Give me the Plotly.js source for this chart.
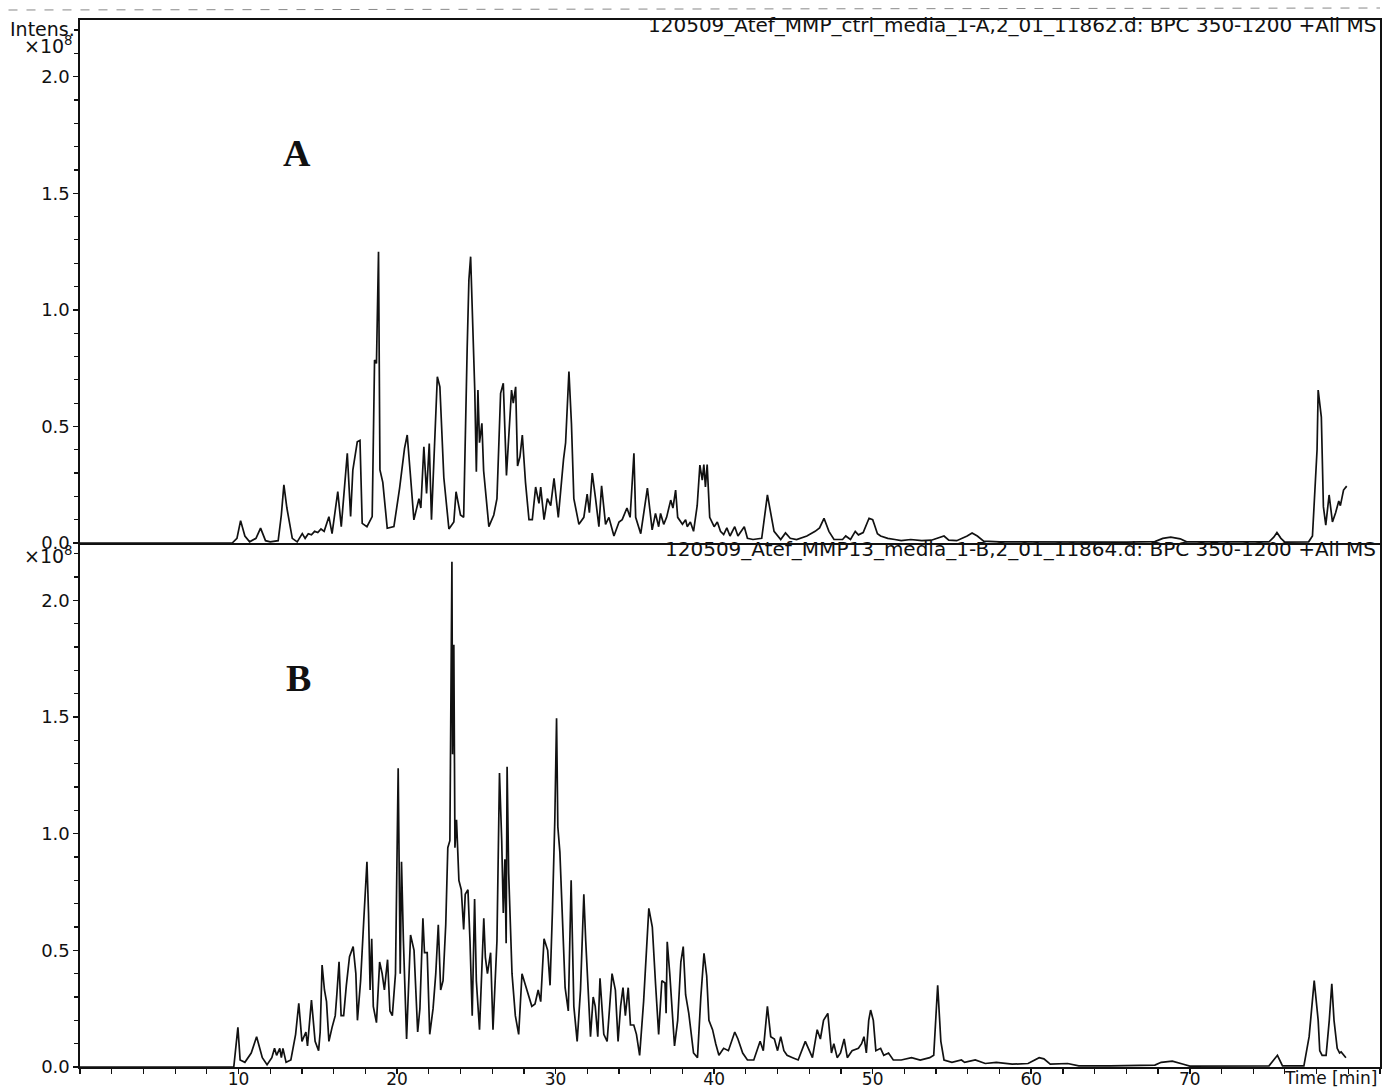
<!DOCTYPE html>
<html>
<head>
<meta charset="utf-8">
<script src="https://cdn.plot.ly/plotly-3.0.1.min.js"></script>
<style>html,body{margin:0;padding:0;background:#fff;}#chart{width:1394px;height:1088px;}</style>
</head>
<body>
<div id="chart"></div>
<script>
// Trace A: MMP ctrl media (time in min, intensity in 1e8)
const timeA = [0,9.6,9.9,10.13,10.4,10.7,11.1,11.39,11.7,12.0,12.5,12.7,12.86,13.05,13.39,13.7,14.02,14.2,14.4,14.6,14.8,15.0,15.2,15.4,15.7,15.9,16.26,16.48,16.86,17.07,17.21,17.49,17.66,17.8,18.1,18.43,18.58,18.7,18.83,18.92,19.1,19.38,19.8,20.16,20.47,20.64,20.85,21.06,21.38,21.5,21.69,21.86,22.03,22.17,22.54,22.7,22.95,23.27,23.58,23.72,24.0,24.2,24.42,24.53,24.64,24.75,24.9,25.0,25.1,25.2,25.35,25.46,25.79,26.1,26.3,26.53,26.7,26.9,27.05,27.22,27.33,27.48,27.6,27.75,27.9,28.1,28.32,28.53,28.74,28.95,29.06,29.27,29.48,29.69,29.9,30.17,30.5,30.63,30.84,31.0,31.15,31.47,31.78,31.99,32.13,32.31,32.52,32.73,32.9,33.15,33.36,33.68,34.0,34.2,34.5,34.7,34.94,35.05,35.37,35.79,36.09,36.3,36.5,36.62,36.82,37.0,37.26,37.4,37.57,37.7,38.0,38.2,38.3,38.5,38.7,38.93,39.1,39.25,39.35,39.45,39.56,39.72,40.0,40.2,40.4,40.6,40.8,41.0,41.3,41.5,41.9,42.1,42.45,43.0,43.36,43.57,43.78,44.2,44.5,44.8,45.2,45.85,46.37,46.65,46.93,47.24,47.56,48.1,48.3,48.6,48.9,49.1,49.4,49.77,50.0,50.1,50.3,50.5,50.95,51.4,51.8,52.4,53.1,53.7,54.5,54.8,55.3,55.96,56.27,56.6,57.0,58,60,62,64,66,67.8,68.3,68.8,69.4,69.8,72,75.0,75.3,75.5,75.75,76.0,77.5,77.74,78.03,78.1,78.3,78.43,78.58,78.79,79.0,79.2,79.4,79.5,79.7,79.9];
const intensA = [0,0,0.02,0.096,0.03,0.005,0.02,0.064,0.01,0.005,0.01,0.12,0.249,0.15,0.02,0.005,0.04,0.02,0.04,0.035,0.05,0.045,0.06,0.05,0.113,0.04,0.22,0.07,0.385,0.114,0.313,0.434,0.44,0.084,0.07,0.113,0.785,0.77,1.249,0.313,0.26,0.063,0.07,0.235,0.406,0.463,0.284,0.099,0.19,0.15,0.413,0.213,0.427,0.1,0.713,0.67,0.28,0.06,0.09,0.22,0.12,0.11,0.83,1.128,1.228,1.013,0.656,0.306,0.656,0.43,0.513,0.31,0.07,0.12,0.19,0.642,0.685,0.29,0.44,0.656,0.6,0.67,0.33,0.37,0.463,0.26,0.1,0.1,0.24,0.17,0.24,0.1,0.19,0.16,0.277,0.11,0.36,0.43,0.735,0.51,0.19,0.08,0.11,0.21,0.13,0.3,0.19,0.07,0.245,0.08,0.11,0.03,0.09,0.1,0.15,0.11,0.385,0.11,0.04,0.235,0.056,0.127,0.07,0.127,0.08,0.11,0.184,0.15,0.227,0.11,0.08,0.1,0.07,0.09,0.05,0.16,0.334,0.27,0.336,0.24,0.336,0.11,0.07,0.09,0.05,0.036,0.065,0.03,0.07,0.03,0.07,0.02,0.015,0.02,0.206,0.127,0.05,0.015,0.043,0.02,0.015,0.03,0.05,0.065,0.106,0.05,0.015,0.015,0.03,0.015,0.05,0.035,0.045,0.106,0.1,0.08,0.04,0.03,0.02,0.015,0.01,0.015,0.01,0.012,0.03,0.012,0.01,0.03,0.043,0.03,0.008,0.005,0.004,0.004,0.003,0.004,0.006,0.02,0.025,0.018,0.005,0.004,0.005,0.025,0.045,0.02,0.004,0.005,0.03,0.4,0.656,0.54,0.156,0.077,0.206,0.09,0.13,0.18,0.16,0.227,0.244];

// Trace B: MMP13 media
const timeB = [0,9.7,9.96,10.1,10.4,10.8,11.14,11.5,11.8,12.1,12.27,12.4,12.6,12.7,12.8,13.0,13.3,13.6,13.8,14.0,14.25,14.35,14.6,14.83,15.05,15.15,15.27,15.42,15.55,15.7,15.9,16.1,16.2,16.34,16.47,16.63,16.8,17.0,17.23,17.4,17.5,17.7,17.9,18.1,18.2,18.3,18.4,18.5,18.7,18.9,19.06,19.2,19.4,19.55,19.7,19.9,20.07,20.15,20.2,20.28,20.4,20.6,20.85,21.07,21.3,21.44,21.63,21.73,21.9,22.06,22.27,22.44,22.6,22.75,22.9,23.07,23.2,23.33,23.42,23.46,23.5,23.58,23.65,23.75,23.9,24.05,24.2,24.3,24.47,24.6,24.74,24.89,25.0,25.2,25.47,25.57,25.7,25.9,26.05,26.2,26.3,26.46,26.6,26.7,26.8,26.88,26.94,27.04,27.25,27.46,27.67,27.88,28.1,28.2,28.35,28.5,28.7,28.9,29.06,29.27,29.5,29.65,29.8,29.95,30.06,30.14,30.27,30.4,30.6,30.8,30.98,31.15,31.36,31.57,31.78,31.9,32.03,32.2,32.37,32.5,32.66,32.8,33.04,33.25,33.56,33.77,33.94,34.1,34.25,34.4,34.58,34.72,34.93,35.1,35.3,35.55,35.88,36.1,36.3,36.5,36.7,36.9,36.97,37.04,37.2,37.37,37.5,37.7,37.9,38.05,38.2,38.4,38.7,38.95,39.16,39.36,39.53,39.67,39.9,40.1,40.3,40.6,40.9,41.3,41.5,41.8,42.1,42.5,42.9,43.1,43.36,43.57,43.8,44.0,44.2,44.4,44.6,44.95,45.3,45.75,46.0,46.2,46.5,46.7,46.9,47.17,47.4,47.55,47.76,47.97,48.2,48.4,48.7,49.1,49.3,49.45,49.6,49.75,49.87,50.04,50.2,50.5,50.7,51.0,51.3,51.8,52.45,53.0,53.6,53.85,54.1,54.3,54.5,55.0,55.6,55.8,56.47,57.1,57.8,58.8,59.8,60.5,60.8,61.2,62.3,63,65,67.8,68.2,68.9,69.6,70.0,75.0,75.53,75.85,77.2,77.53,77.85,78.1,78.2,78.35,78.6,78.8,78.96,79.1,79.3,79.45,79.55,79.85];
const intensB = [0,0,0.17,0.03,0.02,0.06,0.13,0.04,0.01,0.04,0.08,0.05,0.08,0.04,0.08,0.02,0.03,0.14,0.273,0.11,0.15,0.09,0.287,0.11,0.07,0.15,0.437,0.33,0.28,0.11,0.17,0.22,0.31,0.451,0.22,0.22,0.35,0.473,0.516,0.4,0.2,0.37,0.63,0.88,0.66,0.33,0.55,0.26,0.19,0.45,0.4,0.33,0.46,0.24,0.22,0.4,1.28,0.68,0.4,0.88,0.54,0.12,0.566,0.5,0.15,0.25,0.637,0.49,0.49,0.14,0.25,0.4,0.61,0.33,0.37,0.61,0.94,0.97,1.72,2.166,1.34,1.81,0.94,1.06,0.8,0.76,0.59,0.74,0.76,0.54,0.22,0.72,0.37,0.16,0.637,0.47,0.4,0.49,0.16,0.43,0.54,1.26,0.97,0.66,0.89,0.53,1.287,0.83,0.4,0.22,0.14,0.4,0.35,0.33,0.29,0.26,0.27,0.33,0.28,0.55,0.5,0.35,0.67,1.06,1.495,1.03,0.92,0.67,0.34,0.24,0.8,0.26,0.11,0.33,0.74,0.54,0.36,0.13,0.3,0.26,0.13,0.38,0.14,0.11,0.4,0.33,0.11,0.26,0.34,0.22,0.34,0.18,0.18,0.14,0.05,0.28,0.68,0.6,0.36,0.14,0.37,0.36,0.23,0.537,0.4,0.2,0.09,0.2,0.45,0.516,0.31,0.23,0.06,0.04,0.3,0.487,0.39,0.2,0.16,0.1,0.05,0.08,0.07,0.15,0.12,0.06,0.03,0.03,0.11,0.07,0.26,0.13,0.12,0.07,0.13,0.07,0.05,0.04,0.03,0.11,0.07,0.04,0.16,0.12,0.2,0.23,0.06,0.1,0.04,0.06,0.12,0.04,0.07,0.08,0.1,0.13,0.06,0.2,0.244,0.2,0.07,0.08,0.05,0.06,0.03,0.03,0.04,0.03,0.04,0.05,0.35,0.11,0.03,0.02,0.03,0.02,0.03,0.015,0.02,0.012,0.015,0.04,0.035,0.012,0.015,0.005,0.005,0.008,0.02,0.025,0.012,0.004,0.005,0.05,0.005,0.005,0.13,0.37,0.2,0.07,0.05,0.05,0.2,0.357,0.2,0.08,0.06,0.065,0.04];

const xTickVals = [10,20,30,40,50,60,70];
const yTickVals = [0,0.5,1.0,1.5,2.0];
const titleA = "120509_Atef_MMP_ctrl_media_1-A,2_01_11862.d: BPC 350-1200 +All MS";
const titleB = "120509_Atef_MMP13_media_1-B,2_01_11864.d: BPC 350-1200 +All MS";

const FONT = "DejaVu Sans, Arial, sans-serif";
const INK = "#111";
const split = 524/1047;

const traces = [
  {x: timeA, y: intensA, xaxis: 'x2', yaxis: 'y', type: 'scatter', mode: 'lines',
   line: {color: INK, width: 1.7}, hoverinfo: 'skip'},
  {x: timeB, y: intensB, xaxis: 'x', yaxis: 'y2', type: 'scatter', mode: 'lines',
   line: {color: INK, width: 1.7}, hoverinfo: 'skip'}
];

const yCommon = {
  tickmode: 'array', tickvals: yTickVals, ticktext: yTickVals.map(v => v.toFixed(1)),
  ticks: 'outside', ticklen: 5, tickwidth: 1.5, tickcolor: INK,
  minor: {tickmode: 'linear', tick0: 0, dtick: 0.1, ticks: 'outside', ticklen: 4, tickwidth: 1.2, tickcolor: INK},
  showline: true, linecolor: INK, linewidth: 1.6, mirror: true,
  showgrid: false, zeroline: false,
  tickfont: {family: FONT, size: 18, color: INK}
};

const layout = {
  width: 1394, height: 1088,
  margin: {l: 80, r: 14, t: 20, b: 21},
  paper_bgcolor: '#fff', plot_bgcolor: '#fff',
  showlegend: false,
  xaxis: {
    range: [0, 82], anchor: 'y2', domain: [0, 1],
    tickmode: 'array', tickvals: xTickVals, ticktext: xTickVals.map(String),
    ticks: 'outside', ticklen: 5, tickwidth: 1.5, tickcolor: INK,
    ticklabelstandoff: -9,
    minor: {tickmode: 'linear', tick0: 0, dtick: 2, ticks: 'outside', ticklen: 5, tickwidth: 1.2, tickcolor: INK},
    showline: true, linecolor: INK, linewidth: 1.6, mirror: false,
    showgrid: false, zeroline: false,
    tickfont: {family: FONT, size: 17, color: INK}
  },
  xaxis2: {
    range: [0, 82], anchor: 'y', matches: 'x', domain: [0, 1],
    showticklabels: false, ticks: '',
    showline: true, linecolor: INK, linewidth: 1.6, mirror: true,
    showgrid: false, zeroline: false
  },
  yaxis: Object.assign({}, yCommon, {domain: [split, 1], range: [0, 2.243], anchor: 'x2'}),
  yaxis2: Object.assign({}, yCommon, {domain: [0, split], range: [0, 2.246], anchor: 'x'}),
  annotations: [
    {text: titleA, xref: 'paper', yref: 'paper', x: 1, y: 1, xanchor: 'right', yanchor: 'middle',
     xshift: -2, yshift: -5, showarrow: false, font: {family: FONT, size: 20, color: INK}},
    {text: titleB, xref: 'paper', yref: 'paper', x: 1, y: split, xanchor: 'right', yanchor: 'middle',
     xshift: -2, yshift: -6, showarrow: false, font: {family: FONT, size: 20, color: INK}},
    {text: 'Intens.', xref: 'paper', yref: 'paper', x: 0, y: (1067-29)/1047, xanchor: 'right', yanchor: 'middle',
     xshift: -3, showarrow: false, font: {family: FONT, size: 19, color: INK}},
    {text: '×10<sup>8</sup>', xref: 'paper', yref: 'paper', x: 0, y: (1067-45)/1047, xanchor: 'right', yanchor: 'middle',
     xshift: -5, showarrow: false, font: {family: FONT, size: 19, color: INK}},
    {text: '×10<sup>8</sup>', xref: 'paper', yref: 'paper', x: 0, y: (1067-555)/1047, xanchor: 'right', yanchor: 'middle',
     xshift: -5, showarrow: false, font: {family: FONT, size: 19, color: INK}},
    {text: '<b>A</b>', xref: 'paper', yref: 'paper', x: (297-80)/1300, y: (1067-153)/1047, xanchor: 'center', yanchor: 'middle',
     showarrow: false, font: {family: 'Liberation Serif, Times New Roman, serif', size: 38, color: INK}},
    {text: '<b>B</b>', xref: 'paper', yref: 'paper', x: (298-80)/1300, y: (1067-678)/1047, xanchor: 'center', yanchor: 'middle',
     showarrow: false, font: {family: 'Liberation Serif, Times New Roman, serif', size: 38, color: INK}},
    {text: 'Time [min]', xref: 'paper', yref: 'paper', x: 1, y: 0, xanchor: 'right', yanchor: 'top',
     xshift: -1, yshift: 1, showarrow: false, font: {family: FONT, size: 17, color: INK}}
  ],
  shapes: [
    {type: 'line', xref: 'paper', yref: 'paper', x0: -0.055, x1: 1.0, y0: (1067-10)/1047, y1: (1067-8)/1047,
     line: {color: '#888', width: 1, dash: 'dash'}}
  ]
};

Plotly.newPlot('chart', traces, layout, {displayModeBar: false, staticPlot: true});
</script>
</body>
</html>
